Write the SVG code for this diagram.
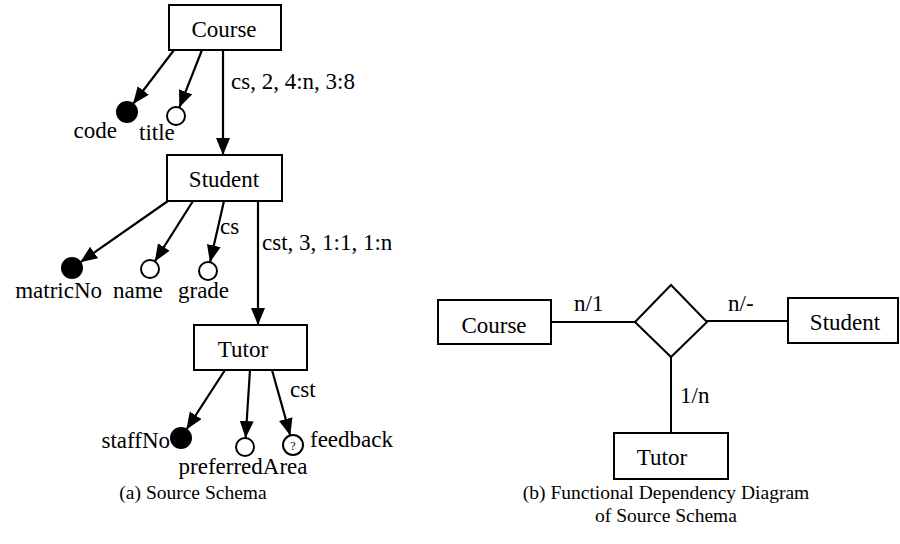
<svg xmlns="http://www.w3.org/2000/svg" width="900" height="544" viewBox="0 0 900 544">
<style>
  .box { fill: #fff; stroke: #000; stroke-width: 2; }
  .t { font-family: 'Liberation Serif', 'Tinos', 'DejaVu Serif', serif; font-size: 23px; fill: #000; }
  .c { text-anchor: middle; }
  .e { text-anchor: end; }
  .cap { font-family: 'Liberation Serif', 'DejaVu Serif', serif; font-size: 19.5px; fill: #000; text-anchor: middle; }
  .arr { stroke: #000; stroke-width: 2.2; fill: none; marker-end: url(#ah); }
  .ln { stroke: #000; stroke-width: 2; fill: none; }
  .full { fill: #000; stroke: #000; stroke-width: 2; }
  .open { fill: #fff; stroke: #000; stroke-width: 2; }
</style>
<defs>
  <marker id="ah" markerUnits="userSpaceOnUse" markerWidth="18" markerHeight="16" refX="17" refY="7" orient="auto" viewBox="0 0 18 16">
    <path d="M0,0 L17,7 L0,14 z" fill="#000"/>
  </marker>
</defs>

<g id="connectors">
  <line class="arr" x1="174" y1="50" x2="133" y2="104"/>
  <line class="arr" x1="202" y1="50" x2="179.3" y2="107.6"/>
  <line class="arr" x1="223" y1="50" x2="223" y2="155"/>
  <line class="arr" x1="168" y1="201" x2="80.2" y2="262.3"/>
  <line class="arr" x1="193" y1="201" x2="154.8" y2="261.4"/>
  <line class="arr" x1="224" y1="201" x2="210" y2="262.2"/>
  <line class="arr" x1="258" y1="201" x2="258" y2="325"/>
  <line class="arr" x1="225" y1="370" x2="186.4" y2="429.6"/>
  <line class="arr" x1="250" y1="370" x2="245.6" y2="438"/>
  <line class="arr" x1="272" y1="370" x2="290.3" y2="435.4"/>
  <line class="ln" x1="551" y1="322" x2="635" y2="322"/>
  <line class="ln" x1="707" y1="321" x2="788" y2="321"/>
  <line class="ln" x1="671" y1="357" x2="671" y2="433"/>
  <text class="t" x="231" y="89">cs, 2, 4:n, 3:8</text>
  <text class="t" x="220" y="234">cs</text>
  <text class="t" x="262" y="250">cst, 3, 1:1, 1:n</text>
  <text class="t" x="290" y="397">cst</text>
  <text class="t" x="574" y="311">n/1</text>
  <text class="t" x="728" y="311">n/-</text>
  <text class="t" x="680" y="403">1/n</text>
</g>

<g id="course-a">
  <rect class="box" x="169" y="5" width="112" height="45"/>
  <text class="t c" x="224" y="37">Course</text>
</g>
<g id="code">
  <circle class="full" cx="127" cy="112" r="10"/>
  <text class="t e" x="117" y="138">code</text>
</g>
<g id="title">
  <circle class="open" cx="176" cy="116" r="9"/>
  <text class="t" x="139" y="140">title</text>
</g>
<g id="student-a">
  <rect class="box" x="167" y="155" width="115" height="46"/>
  <text class="t c" x="224" y="187">Student</text>
</g>
<g id="matricNo">
  <circle class="full" cx="72" cy="268" r="10"/>
  <text class="t e" x="102" y="298">matricNo</text>
</g>
<g id="name">
  <circle class="open" cx="150" cy="269" r="9"/>
  <text class="t" x="113" y="298">name</text>
</g>
<g id="grade">
  <circle class="open" cx="208" cy="271" r="9"/>
  <text class="t" x="178" y="298">grade</text>
</g>
<g id="tutor-a">
  <rect class="box" x="194" y="325" width="113" height="45"/>
  <text class="t c" x="243" y="357">Tutor</text>
</g>
<g id="staffNo">
  <circle class="full" cx="181" cy="438" r="10"/>
  <text class="t e" x="170" y="448">staffNo</text>
</g>
<g id="preferredArea">
  <circle class="open" cx="245" cy="447" r="9"/>
  <text class="t c" x="243" y="474">preferredArea</text>
</g>
<g id="feedback">
  <circle class="open" cx="293" cy="445" r="10"/>
  <text class="t c" x="293" y="450" style="font-size:12px">?</text>
  <text class="t" x="310" y="447">feedback</text>
</g>

<g id="course-b">
  <rect class="box" x="438" y="300" width="113" height="44"/>
  <text class="t c" x="494" y="333">Course</text>
</g>
<g id="relationship">
  <polygon class="box" points="635,322 671,285 707,322 671,357"/>
</g>
<g id="student-b">
  <rect class="box" x="788" y="298" width="110" height="45"/>
  <text class="t c" x="845" y="330">Student</text>
</g>
<g id="tutor-b">
  <rect class="box" x="614" y="433" width="114" height="46"/>
  <text class="t c" x="662" y="465">Tutor</text>
</g>

<text class="cap" x="193" y="499">(a) Source Schema</text>
<text class="cap" x="666" y="499">(b) Functional Dependency Diagram</text>
<text class="cap" x="666" y="522">of Source Schema</text>
</svg>
